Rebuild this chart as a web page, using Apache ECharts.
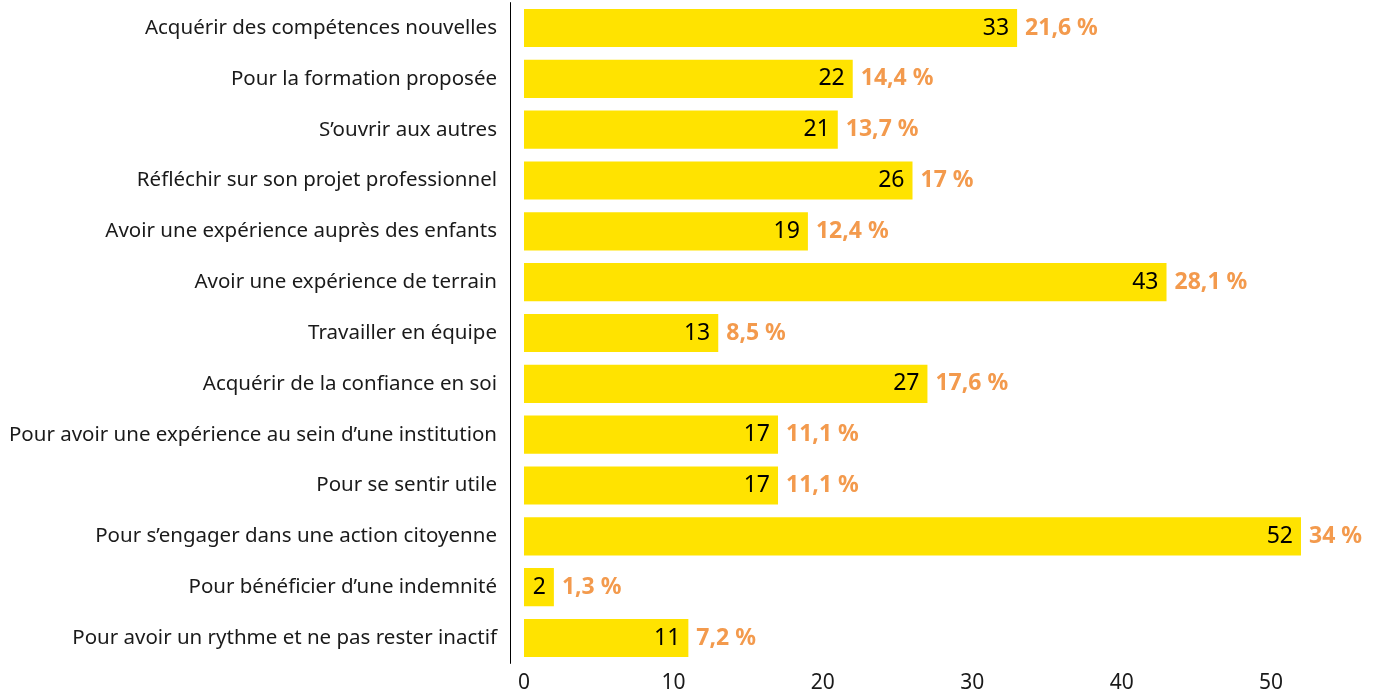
<!DOCTYPE html>
<html>
<head>
<meta charset="utf-8">
<script src="https://cdn.jsdelivr.net/npm/echarts@6/dist/echarts.min.js"></script>
<style>
  html, body { margin: 0; padding: 0; background: #fff; }
  #chart { width: 1386px; height: 695px; }
</style>
</head>
<body>
<div id="chart"></div>
<script>
const categories = [
  'Acquérir des compétences nouvelles',
  'Pour la formation proposée',
  'S’ouvrir aux autres',
  'Réfléchir sur son projet professionnel',
  'Avoir une expérience auprès des enfants',
  'Avoir une expérience de terrain',
  'Travailler en équipe',
  'Acquérir de la confiance en soi',
  'Pour avoir une expérience au sein d’une institution',
  'Pour se sentir utile',
  'Pour s’engager dans une action citoyenne',
  'Pour bénéficier d’une indemnité',
  'Pour avoir un rythme et ne pas rester inactif'
]
const counts = [33, 22, 21, 26, 19, 43, 13, 27, 17, 17, 52, 2, 11]
const percents = ['21,6 %', '14,4 %', '13,7 %', '17 %', '12,4 %', '28,1 %', '8,5 %', '17,6 %', '11,1 %', '11,1 %', '34 %', '1,3 %', '7,2 %']
const xTicks = [0, 10, 20, 30, 40, 50]

const font = '"Noto Sans", sans-serif'
const chart = echarts.init(document.getElementById('chart'))

chart.setOption({
  animation: false,
  grid: { left: 524, right: 85, top: 2.6, bottom: 31.6 },
  xAxis: {
    type: 'value',
    min: 0,
    max: 52,
    interval: 10,
    axisLine: { show: false },
    axisTick: { show: false },
    splitLine: { show: false },
    axisLabel: {
      fontFamily: font, fontSize: 21, color: '#1a1a1a', margin: 9,
      formatter: v => xTicks.includes(v) ? String(v) : ''
    }
  },
  yAxis: {
    type: 'category',
    inverse: true,
    data: categories,
    offset: 14,
    axisLine: { onZero: false, lineStyle: { color: '#000', width: 1 } },
    axisTick: { show: false },
    axisLabel: { fontFamily: font, fontSize: 20.5, color: '#1a1a1a', margin: 13 }
  },
  series: [
    {
      type: 'bar',
      data: counts,
      barCategoryGap: '25%',
      itemStyle: { color: '#FFE300' },
      label: {
        show: true, position: 'insideRight', distance: 8,
        fontFamily: font, fontSize: 23, color: '#000'
      }
    },
    {
      type: 'scatter',
      data: counts.map((v, i) => [v, i]),
      symbolSize: 0,
      silent: true,
      itemStyle: { opacity: 1 },
      label: {
        show: true, position: 'right', distance: 8,
        fontFamily: font, fontSize: 23, fontWeight: 'bold', color: '#F39A4D',
        formatter: p => percents[p.dataIndex]
      }
    }
  ]
})
</script>
</body>
</html>
